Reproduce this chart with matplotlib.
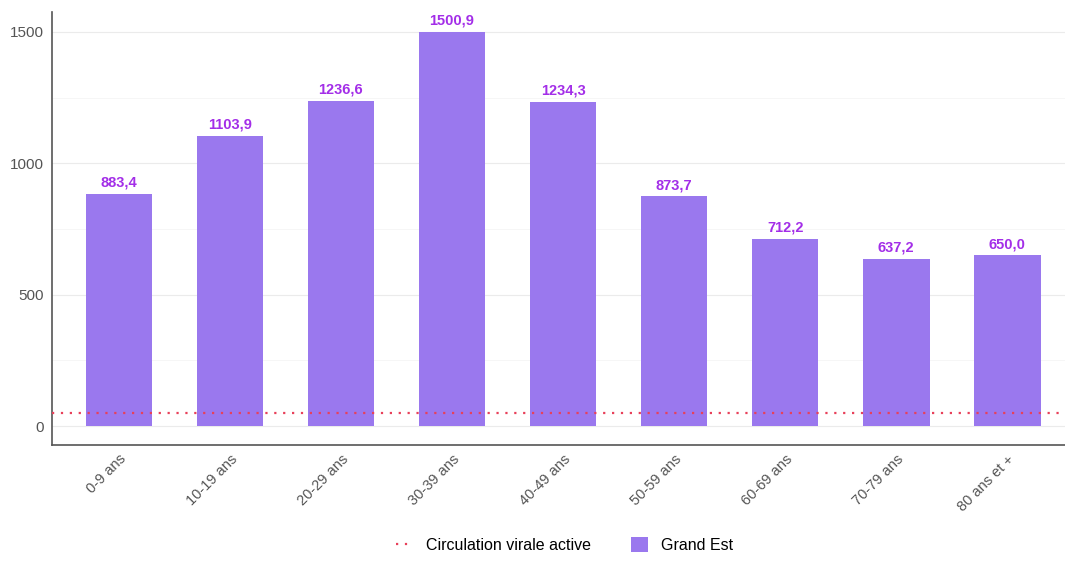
import numpy as np
import matplotlib.pyplot as plt
from matplotlib.lines import Line2D
from matplotlib.patches import Patch

plt.rcParams['font.family'] = ['Liberation Sans', 'DejaVu Sans']

# data
age_groups = ['0-9 ans', '10-19 ans', '20-29 ans', '30-39 ans', '40-49 ans',
              '50-59 ans', '60-69 ans', '70-79 ans', '80 ans et +']
taux = [883.4, 1103.9, 1236.6, 1500.9, 1234.3, 873.7, 712.2, 637.2, 650.0]
seuil = 50

BAR_COLOR = '#9a78ee'
LABEL_COLOR = '#a32ee8'
LINE_COLOR = '#e8405a'

fig = plt.figure(figsize=(10.65, 5.62), dpi=100)
ax = fig.add_axes([0.049, 0.208, 0.951, 0.771])

x = np.arange(len(age_groups))
ax.bar(x, taux, width=0.6, color=BAR_COLOR, zorder=2)
ax.axhline(seuil, color=LINE_COLOR, linestyle=(0, (1, 3)), linewidth=1.6, zorder=3)

for xi, v in zip(x, taux):
    ax.text(xi, v + 16, f'{v:.1f}'.replace('.', ','), ha='center', va='bottom',
            color=LABEL_COLOR, fontsize=10.5, fontweight='bold')

ax.set_xlim(-0.6, 8.52)
ax.set_ylim(-72, 1576)
ax.set_yticks([0, 500, 1000, 1500])
ax.set_yticks([250, 750, 1250], minor=True)
ax.tick_params(axis='y', which='both', length=0, labelsize=11, labelcolor='#555555', pad=6)
ax.tick_params(axis='x', length=0, labelsize=10.5, labelcolor='#555555', pad=5)
ax.set_xticks(x)
ax.set_xticklabels(age_groups, rotation=45, ha='right', rotation_mode='anchor')
ax.grid(axis='y', which='major', color='#ebebeb', linewidth=0.8, zorder=0)
ax.grid(axis='y', which='minor', color='#f5f5f5', linewidth=0.6, zorder=0)

for side in ['top', 'right']:
    ax.spines[side].set_visible(False)
ax.spines['left'].set_color('#555555')
ax.spines['bottom'].set_color('#555555')
ax.spines['left'].set_linewidth(1.2)
ax.spines['bottom'].set_linewidth(1.2)

handles = [Line2D([0], [0], color=LINE_COLOR, linestyle=(0, (1, 3)), linewidth=1.6),
           Patch(facecolor=BAR_COLOR)]
fig.legend(handles, ['Circulation virale active', 'Grand Est'], loc='lower center',
           bbox_to_anchor=(0.53, -0.01), ncol=2, frameon=False, fontsize=11.5,
           handlelength=1.1, handleheight=1.1, columnspacing=2.5)

fig.savefig('out.png', dpi=100)
